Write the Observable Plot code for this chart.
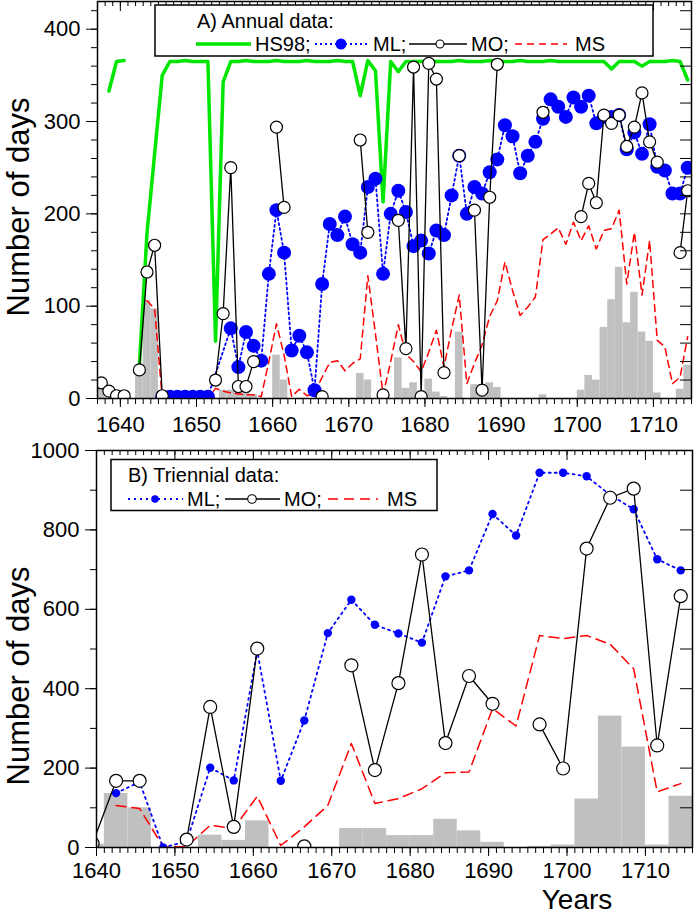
<!DOCTYPE html>
<html><head><meta charset="utf-8">
<script src="https://cdn.jsdelivr.net/npm/d3@7"></script>
<script src="https://cdn.jsdelivr.net/npm/@observablehq/plot@0.6"></script>
<style>
body{margin:0;background:#fff;}
#c{position:relative;width:695px;height:916px;overflow:hidden;}
#c svg{position:absolute;left:0;display:block;}
</style></head><body><div id="c"></div>
<script>
// ---------- Panel A: annual data (1637-1714) ----------
const yearsA = [
  1637,1638,1639,
  1640,1641,1642,1643,1644,1645,1646,1647,1648,1649,
  1650,1651,1652,1653,1654,1655,1656,1657,1658,1659,
  1660,1661,1662,1663,1664,1665,1666,1667,1668,1669,
  1670,1671,1672,1673,1674,1675,1676,1677,1678,1679,
  1680,1681,1682,1683,1684,1685,1686,1687,1688,1689,
  1690,1691,1692,1693,1694,1695,1696,1697,1698,1699,
  1700,1701,1702,1703,1704,1705,1706,1707,1708,1709,
  1710,1711,1712,1713,1714];
const hs98A = [
  null,333,365,
  366,null,36,179,265,350,365,365,366,365,
  365,365,62,343,365,365,366,365,365,365,
  366,365,365,365,366,365,365,365,366,365,
  365,328,366,355,213,365,354,365,365,365,
  366,365,365,365,366,365,365,365,366,365,
  365,365,366,365,365,365,366,365,365,365,
  365,365,365,365,357,365,365,365,360,365,
  365,365,366,365,345];
const mlA = [
  null,null,null,
  null,null,null,null,null,2,2,2,2,2,
  2,2,null,null,76,34,72,57,41,135,
  204,158,52,68,50,9,124,189,177,197,
  167,158,229,238,135,200,225,202,165,171,
  157,182,177,220,263,200,229,222,245,259,
  296,284,244,263,278,303,324,316,305,326,
  316,328,298,305,305,307,270,288,265,297,
  251,247,222,222,250];
const moA = [
  17,8,3,
  3,null,31,137,166,3,null,null,null,null,
  null,null,20,92,250,13,13,40,null,null,
  294,207,null,null,null,null,2,null,null,null,
  null,280,180,null,4,null,193,54,359,2,
  363,346,28,null,263,null,204,9,218,362,
  null,null,null,null,null,310,null,null,null,null,
  197,233,212,307,298,307,273,294,331,278,
  256,null,null,158,225];
const msA = [
  null,null,null,
  null,null,null,106,97,0,0,0,0,0,
  0,0,11,8,6,5,4,4,2,40,
  81,47,2,10,3,6,23,39,41,30,
  38,43,133,70,4,40,80,48,40,29,
  50,74,34,75,112,16,38,58,89,106,
  148,117,90,99,110,172,178,185,167,191,
  171,187,162,182,184,204,124,180,112,171,
  63,56,16,23,67];
const barA = [
  11,0,0,
  0,0,30,106,97,0,0,0,0,0,
  0,0,0,9,9,9,6,4,0,0,
  47,20,0,0,0,0,0,0,0,0,
  0,27,20,0,0,0,44,11,17,0,
  21,7,2,0,72,0,15,15,17,12,
  0,0,0,0,0,4,0,0,0,0,
  9,25,20,77,107,142,82,115,72,62,
  6,0,0,10,36];

// ---------- Panel B: triennial data (period start years) ----------
const startB = [1638,1641,1644,1647,1650,1653,1656,1659,1662,1665,1668,1671,1674,
                1677,1680,1683,1686,1689,1692,1695,1698,1701,1704,1707,1710,1713];
const mlB  = [null,137,165,0,15,201,169,495,168,320,540,624,561,539,516,683,698,840,786,944,944,935,888,852,726,698];
const moB  = [10,168,168,null,20,354,52,501,null,3,null,459,195,414,738,263,432,362,null,310,199,753,881,904,257,633];
const msB  = [null,106,98,2,2,56,48,129,5,52,106,262,111,123,148,188,190,350,306,534,526,534,512,450,140,161];
const barB = [8,136,100,0,0,31,18,67,0,0,0,48,48,30,30,71,42,13,0,3,6,122,331,253,6,129];

const legendA = {title: "A) Annual data:", items: ["HS98;", "ML;", "MO;", "MS"]};
const legendB = {title: "B) Triennial data:", items: ["ML;", "MO;", "MS"]};

// ---------- styles ----------
const GREEN = "#00e600", BLUE = "#0000ff", RED = "#ff0000", GRAY = "#c0c0c0";
const tickFont = "'Liberation Sans Narrow','Arial Narrow','Liberation Sans',Arial,sans-serif";
const textFont = "'Liberation Sans',Arial,sans-serif";
const num = v => v == null ? NaN : v;

const recA = yearsA.map((y, i) => ({year: y, hs: hs98A[i], ml: mlA[i], mo: moA[i], ms: msA[i], bar: barA[i]}));
const recB = startB.map((s, i) => ({start: s, ml: mlB[i], mo: moB[i], ms: msB[i], bar: barB[i]}));
const xa = d => d.year + 0.5;
const xb = d => d.start + 1.5;

const W = 695;
const baseStyle = {fontFamily: tickFont, fontSize: "22px", color: "black", background: "white", overflow: "visible"};

// ---------- top plot ----------
const fhA = 440 - 1 - 42, fwA = W - 97 - 4;
const topSvg = Plot.plot({
  width: W, height: 440, marginLeft: 97, marginRight: 4, marginTop: 1, marginBottom: 42,
  x: {domain: [1637, 1715]}, y: {domain: [0, 430]},
  style: baseStyle,
  marks: [
    Plot.rect(recA, {x1: "year", x2: d => d.year + 1, y1: 0, y2: "bar", fill: GRAY, clip: true}),
    Plot.line(recA.filter(d => d.ms != null), {x: xa, y: "ms", stroke: RED, strokeWidth: 1.5, strokeDasharray: "7,5", clip: true}),
    Plot.line(recA, {x: xa, y: d => num(d.hs), stroke: GREEN, strokeWidth: 3.5, clip: true}),
    Plot.line(recA.filter(d => d.ml != null), {x: xa, y: "ml", stroke: BLUE, strokeWidth: 1.8, strokeDasharray: "2,3", clip: true}),
    Plot.dot(recA.filter(d => d.ml != null), {x: xa, y: "ml", r: 7, fill: BLUE, stroke: "none", clip: true}),
    Plot.line(recA, {x: xa, y: d => num(d.mo), stroke: "black", strokeWidth: 1.3, clip: true}),
    Plot.dot(recA.filter(d => d.mo != null), {x: xa, y: "mo", r: 6, fill: "white", stroke: "black", strokeWidth: 1.2, clip: true}),
    Plot.frame({stroke: "black", strokeWidth: 1.5}),
    Plot.axisX({ticks: d3.range(1637, 1716), tickSize: 6, tickFormat: () => "", label: null}),
    Plot.axisX({ticks: d3.range(1640, 1720, 10), tickSize: 9, tickPadding: 9, tickFormat: d => String(d), label: null}),
    Plot.tickX(d3.range(1637, 1716), {x: d => d, insetBottom: fhA - 5, stroke: "black"}),
    Plot.tickX(d3.range(1640, 1720, 10), {x: d => d, insetBottom: fhA - 10, stroke: "black"}),
    Plot.axisY({ticks: d3.range(0, 431, 20), tickSize: 6, tickFormat: () => "", label: null}),
    Plot.axisY({ticks: [0, 100, 200, 300, 400], tickSize: 11, tickPadding: 6, tickFormat: d => String(d), label: null}),
    Plot.tickY(d3.range(0, 431, 20), {y: d => d, insetLeft: fwA - 11, stroke: "black"})
  ]
});
topSvg.style.top = "0px";

// ---------- bottom plot ----------
const fhB = 476 - 10 - 69, fwB = W - 96 - 3;
const botSvg = Plot.plot({
  width: W, height: 476, marginLeft: 96, marginRight: 3, marginTop: 10, marginBottom: 69,
  x: {domain: [1640, 1716]}, y: {domain: [0, 1000]},
  style: baseStyle,
  marks: [
    Plot.rect(recB, {x1: "start", x2: d => d.start + 3, y1: 0, y2: "bar", fill: GRAY, clip: true}),
    Plot.line(recB.filter(d => d.ms != null), {x: xb, y: "ms", stroke: RED, strokeWidth: 1.5, strokeDasharray: "10,6", clip: true}),
    Plot.line(recB.filter(d => d.ml != null), {x: xb, y: "ml", stroke: BLUE, strokeWidth: 1.8, strokeDasharray: "2,4", clip: true}),
    Plot.dot(recB.filter(d => d.ml != null), {x: xb, y: "ml", r: 4.2, fill: BLUE, stroke: "none", clip: true}),
    Plot.line(recB, {x: xb, y: d => num(d.mo), stroke: "black", strokeWidth: 1.3, clip: true}),
    Plot.dot(recB.filter(d => d.mo != null), {x: xb, y: "mo", r: 6.5, fill: "white", stroke: "black", strokeWidth: 1.2, clip: true}),
    Plot.frame({stroke: "black", strokeWidth: 1.5}),
    Plot.axisX({ticks: d3.range(1640, 1717), tickSize: 6, tickFormat: () => "", label: null}),
    Plot.axisX({ticks: d3.range(1640, 1720, 10), tickSize: 9, tickPadding: 6, tickFormat: d => String(d), label: null}),
    Plot.tickX(d3.range(1640, 1717), {x: d => d, insetBottom: fhB - 5, stroke: "black"}),
    Plot.tickX(d3.range(1640, 1720, 10), {x: d => d, insetBottom: fhB - 10, stroke: "black"}),
    Plot.axisY({ticks: d3.range(0, 1001, 100), tickSize: 6, tickFormat: () => "", label: null}),
    Plot.axisY({ticks: d3.range(0, 1001, 200), tickSize: 11, tickPadding: 6, tickFormat: d => String(d), label: null}),
    Plot.tickY(d3.range(0, 1001, 100), {y: d => d, insetLeft: fwB - 12, stroke: "black"})
  ]
});
botSvg.style.top = "440px";

const c = document.getElementById("c");
c.appendChild(topSvg);
c.appendChild(botSvg);

// ---------- axis titles ----------
function yTitle(svg, cy) {
  d3.select(svg).append("text")
    .attr("transform", `translate(29,${cy}) rotate(-90)`)
    .attr("text-anchor", "middle")
    .attr("font-family", textFont).attr("font-size", 31).attr("fill", "black")
    .text("Number of days");
}
yTitle(topSvg, 207);
yTitle(botSvg, 236);
d3.select(botSvg).append("text")
  .attr("x", 577).attr("y", 469).attr("text-anchor", "middle")
  .attr("font-family", textFont).attr("font-size", 28).attr("fill", "black")
  .text("Years");

// ---------- legends ----------
function legendText(g, x, y, t) {
  g.append("text").attr("x", x).attr("y", y).attr("text-anchor", "start")
    .attr("font-family", textFont).attr("font-size", 20).attr("fill", "black").text(t);
}
{
  const g = d3.select(topSvg).append("g");
  g.append("rect").attr("x", 155).attr("y", 5).attr("width", 498).attr("height", 51)
    .attr("fill", "white").attr("stroke", "black").attr("stroke-width", 1.5);
  legendText(g, 197, 28, legendA.title);
  const ly = 44;
  g.append("line").attr("x1", 196).attr("x2", 251).attr("y1", ly).attr("y2", ly)
    .attr("stroke", GREEN).attr("stroke-width", 3.5);
  legendText(g, 255, 51, legendA.items[0]);
  g.append("line").attr("x1", 315).attr("x2", 370).attr("y1", ly).attr("y2", ly)
    .attr("stroke", BLUE).attr("stroke-width", 1.8).attr("stroke-dasharray", "2,3");
  g.append("circle").attr("cx", 341).attr("cy", ly).attr("r", 5.5).attr("fill", BLUE);
  legendText(g, 373, 51, legendA.items[1]);
  g.append("line").attr("x1", 409).attr("x2", 467).attr("y1", ly).attr("y2", ly)
    .attr("stroke", "black").attr("stroke-width", 1.3);
  g.append("circle").attr("cx", 440).attr("cy", ly).attr("r", 4).attr("fill", "white")
    .attr("stroke", "black").attr("stroke-width", 1.1);
  legendText(g, 471, 51, legendA.items[2]);
  g.append("line").attr("x1", 515).attr("x2", 567).attr("y1", ly).attr("y2", ly)
    .attr("stroke", RED).attr("stroke-width", 1.5).attr("stroke-dasharray", "7,5");
  legendText(g, 575, 51, legendA.items[3]);
}
{
  const g = d3.select(botSvg).append("g");
  g.append("rect").attr("x", 111).attr("y", 19.5).attr("width", 326).attr("height", 51)
    .attr("fill", "white").attr("stroke", "black").attr("stroke-width", 1.5);
  legendText(g, 128, 42, legendB.title);
  const ly = 59;
  g.append("line").attr("x1", 128).attr("x2", 183).attr("y1", ly).attr("y2", ly)
    .attr("stroke", BLUE).attr("stroke-width", 1.8).attr("stroke-dasharray", "2,4");
  g.append("circle").attr("cx", 155).attr("cy", ly).attr("r", 3.8).attr("fill", BLUE);
  legendText(g, 187, 66, legendB.items[0]);
  g.append("line").attr("x1", 225).attr("x2", 280).attr("y1", ly).attr("y2", ly)
    .attr("stroke", "black").attr("stroke-width", 1.3);
  g.append("circle").attr("cx", 252).attr("cy", ly).attr("r", 4.3).attr("fill", "white")
    .attr("stroke", "black").attr("stroke-width", 1.1);
  legendText(g, 284, 66, legendB.items[1]);
  g.append("line").attr("x1", 328).attr("x2", 378).attr("y1", ly).attr("y2", ly)
    .attr("stroke", RED).attr("stroke-width", 1.5).attr("stroke-dasharray", "10,6");
  legendText(g, 387, 66, legendB.items[2]);
}
</script>
</body></html>
